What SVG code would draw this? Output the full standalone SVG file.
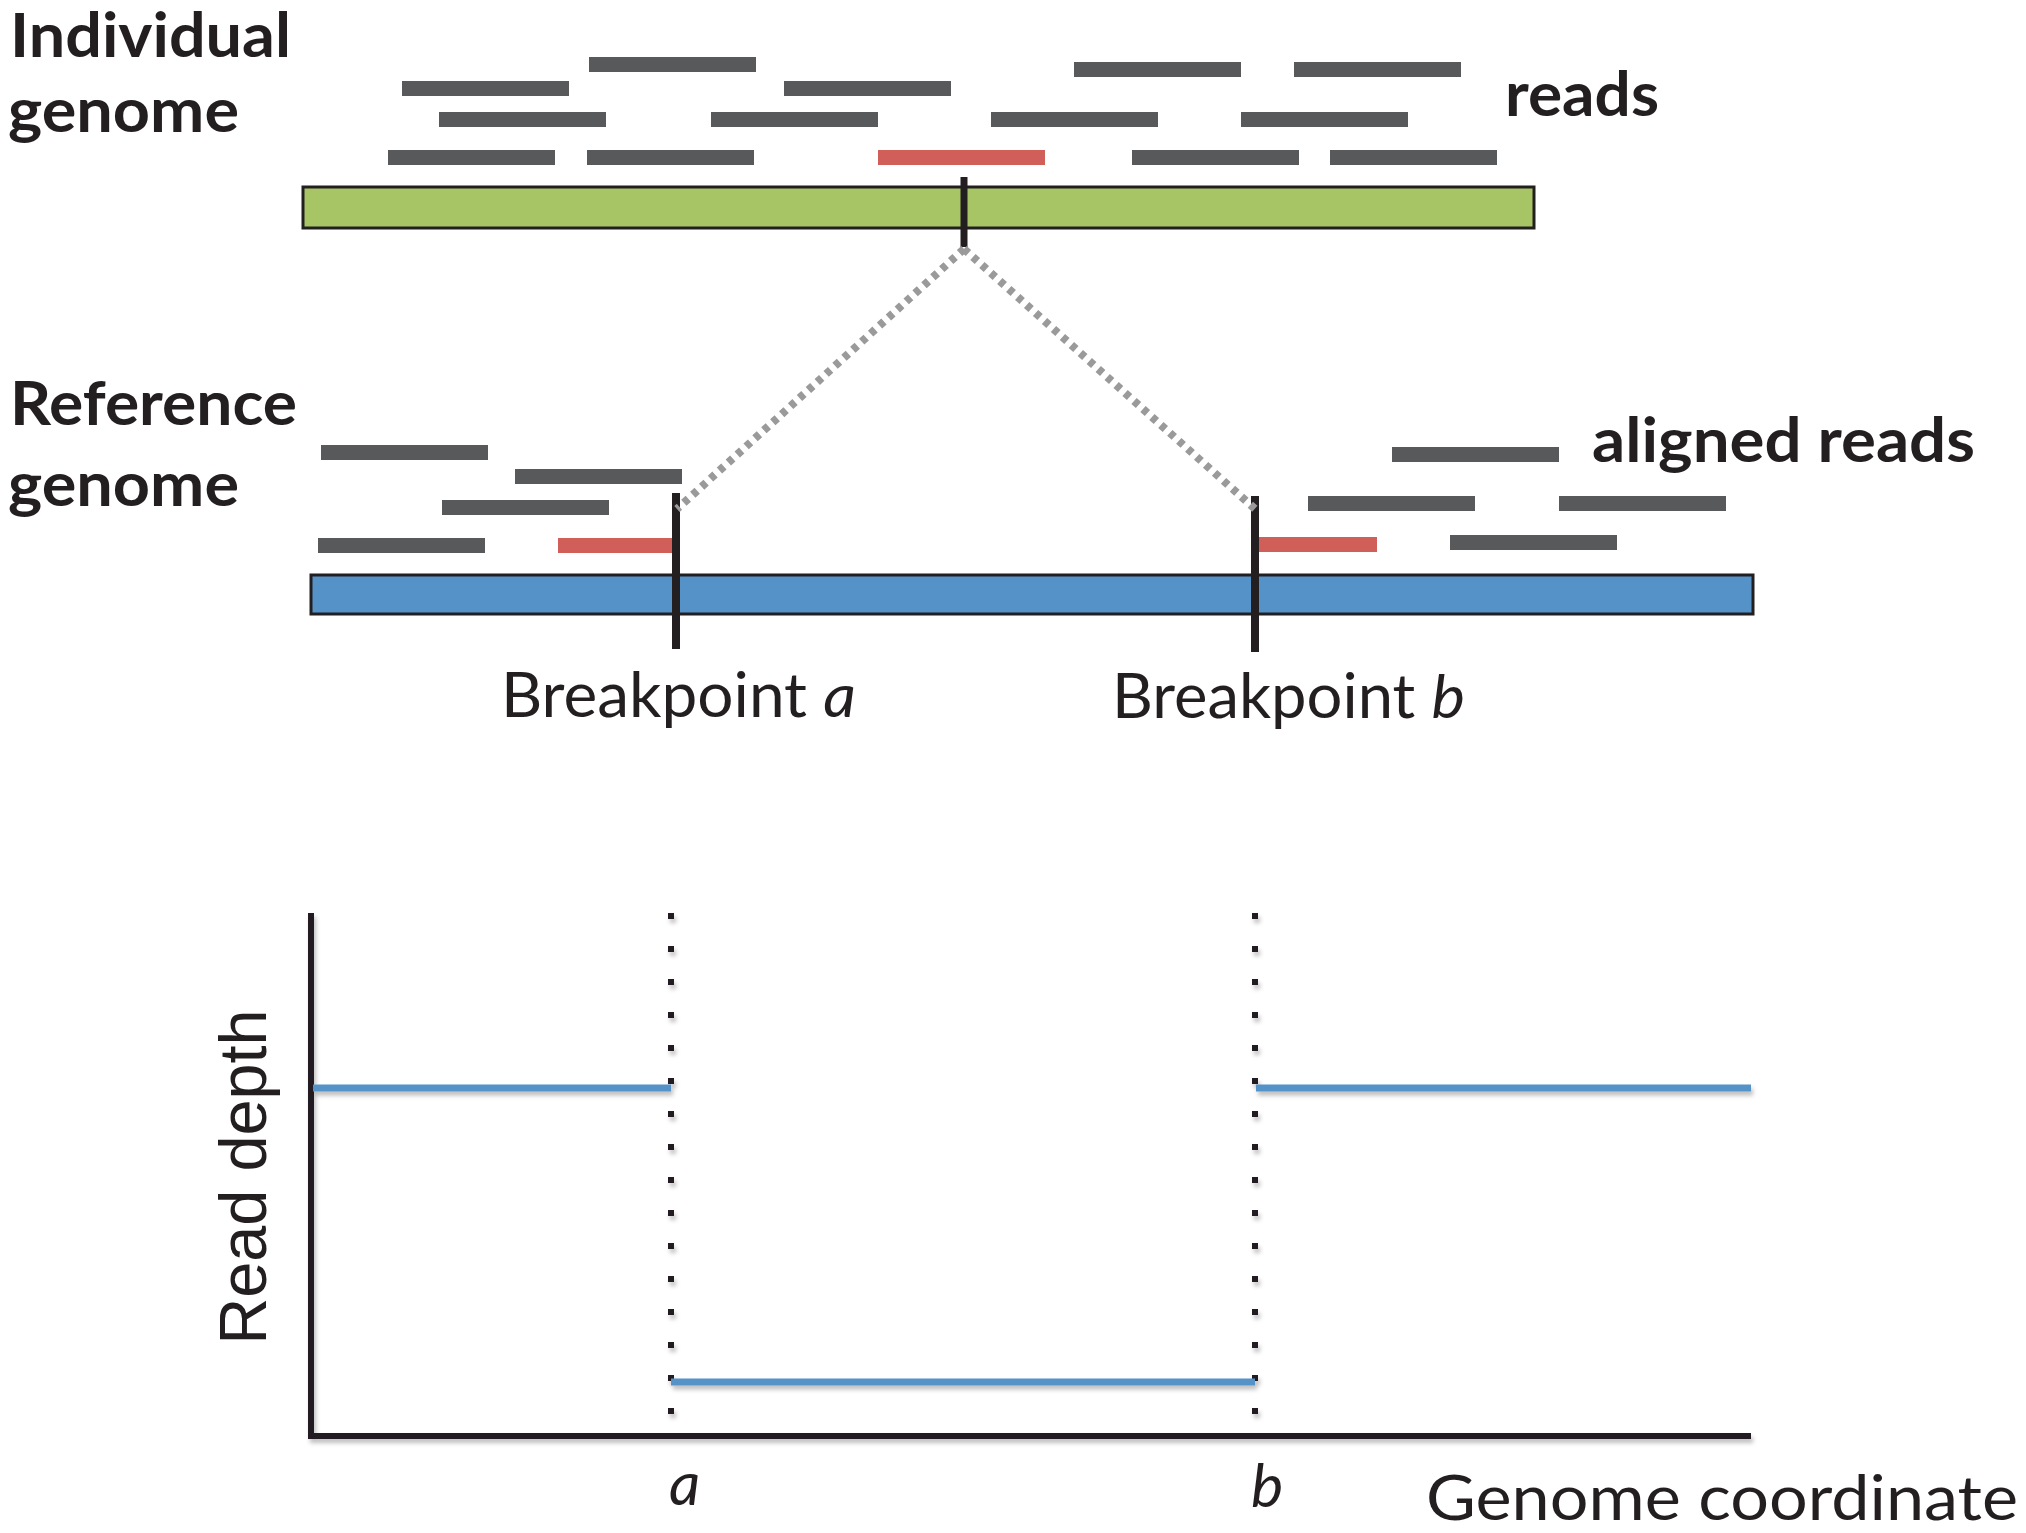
<svg xmlns="http://www.w3.org/2000/svg" width="2026" height="1533" viewBox="0 0 2026 1533">
<defs>
<style>
.lbl{font-family:Lato,"Liberation Sans",sans-serif;font-weight:bold;font-size:61px;fill:#231f20}
.reg{font-family:Lato,"Liberation Sans",sans-serif;font-size:61px;fill:#231f20}
.ax{font-family:"Liberation Sans",Arial,sans-serif;font-size:66px;fill:#231f20}
.read{fill:#58595b}
.red{fill:#cf5f58}
.bp{stroke:#231f20;stroke-width:8}
.diag{stroke:#9a9a9a;stroke-width:8;stroke-dasharray:6 6;fill:none}
.vdot{stroke:#231f20;stroke-width:6;stroke-dasharray:6 27;fill:none}
.depth{stroke:#5592c8;stroke-width:7;fill:none}
.axis{stroke:#231f20;stroke-width:6;fill:none}
</style>
<filter id="sh" x="-5%" y="-50%" width="110%" height="200%">
<feDropShadow dx="2" dy="4" stdDeviation="2" flood-color="#000" flood-opacity="0.25"/>
</filter>
</defs>
<rect width="2026" height="1533" fill="#fff"/>

<g id="individual-genome">
<text class="lbl" x="10" y="57" textLength="281" lengthAdjust="spacingAndGlyphs">Individual</text>
<text class="lbl" x="8" y="132" textLength="231" lengthAdjust="spacingAndGlyphs">genome</text>
<rect x="303" y="187" width="1231" height="41" fill="#a8c566" stroke="#231f20" stroke-width="3"/>
<line class="bp" x1="964" y1="177" x2="964" y2="247" style="stroke-width:7"/>
</g>

<g id="reads">
<text class="lbl" x="1505" y="116" textLength="154" lengthAdjust="spacingAndGlyphs">reads</text>
<rect class="read" x="589" y="57" width="167" height="15"/>
<rect class="read" x="1074" y="62" width="167" height="15"/>
<rect class="read" x="1294" y="62" width="167" height="15"/>
<rect class="read" x="402" y="81" width="167" height="15"/>
<rect class="read" x="784" y="81" width="167" height="15"/>
<rect class="read" x="439" y="112" width="167" height="15"/>
<rect class="read" x="711" y="112" width="167" height="15"/>
<rect class="read" x="991" y="112" width="167" height="15"/>
<rect class="read" x="1241" y="112" width="167" height="15"/>
<rect class="read" x="388" y="150" width="167" height="15"/>
<rect class="read" x="587" y="150" width="167" height="15"/>
<rect class="red" x="878" y="150" width="167" height="15"/>
<rect class="read" x="1132" y="150" width="167" height="15"/>
<rect class="read" x="1330" y="150" width="167" height="15"/>
</g>

<g id="reference-genome">
<text class="lbl" x="10" y="425" textLength="287" lengthAdjust="spacingAndGlyphs">Reference</text>
<text class="lbl" x="8" y="506" textLength="231" lengthAdjust="spacingAndGlyphs">genome</text>
<rect x="311" y="575" width="1442" height="39" fill="#5592c8" stroke="#231f20" stroke-width="3"/>
</g>

<g id="aligned-reads">
<text class="lbl" x="1592" y="462" textLength="383" lengthAdjust="spacingAndGlyphs">aligned reads</text>
<rect class="read" x="321" y="445" width="167" height="15"/>
<rect class="read" x="515" y="469" width="167" height="15"/>
<rect class="read" x="442" y="500" width="167" height="15"/>
<rect class="read" x="318" y="538" width="167" height="15"/>
<rect class="red" x="558" y="538" width="114" height="15"/>
<rect class="read" x="1392" y="447" width="167" height="15"/>
<rect class="read" x="1308" y="496" width="167" height="15"/>
<rect class="read" x="1559" y="496" width="167" height="15"/>
<rect class="red" x="1255" y="537" width="122" height="15"/>
<rect class="read" x="1450" y="535" width="167" height="15"/>
</g>

<g id="breakpoint-a">
<line class="bp" x1="676" y1="493" x2="676" y2="649"/>
<text class="reg" x="501" y="717" textLength="355" lengthAdjust="spacingAndGlyphs">Breakpoint <tspan font-style="italic">a</tspan></text>
</g>

<g id="breakpoint-b">
<line class="bp" x1="1255" y1="496" x2="1255" y2="652"/>
<text class="reg" x="1112" y="718" textLength="353" lengthAdjust="spacingAndGlyphs">Breakpoint <tspan font-style="italic">b</tspan></text>
</g>

<g id="connectors">
<line class="diag" x1="964" y1="249" x2="677" y2="509"/>
<line class="diag" x1="964" y1="249" x2="1255" y2="509"/>
</g>

<g id="read-depth-plot">
<g filter="url(#sh)">
<line class="axis" x1="311" y1="913" x2="311" y2="1439"/>
<line class="axis" x1="308" y1="1436" x2="1751" y2="1436"/>
<line class="vdot" x1="671" y1="913" x2="671" y2="1420"/>
<line class="vdot" x1="1255" y1="913" x2="1255" y2="1420"/>
<line class="depth" x1="313" y1="1088" x2="671" y2="1088"/>
<line class="depth" x1="671" y1="1382" x2="1255" y2="1382"/>
<line class="depth" x1="1256" y1="1088" x2="1751" y2="1088"/>
</g>
<text class="ax" transform="translate(266,1177) rotate(-90)" text-anchor="middle" textLength="335" lengthAdjust="spacingAndGlyphs">Read depth</text>
<text class="reg" x="669" y="1505" font-style="italic">a</text>
<text class="reg" x="1251" y="1507" font-style="italic">b</text>
<text class="reg" x="1426" y="1520" font-size="60" textLength="592" lengthAdjust="spacingAndGlyphs">Genome coordinate</text>
</g>
</svg>
